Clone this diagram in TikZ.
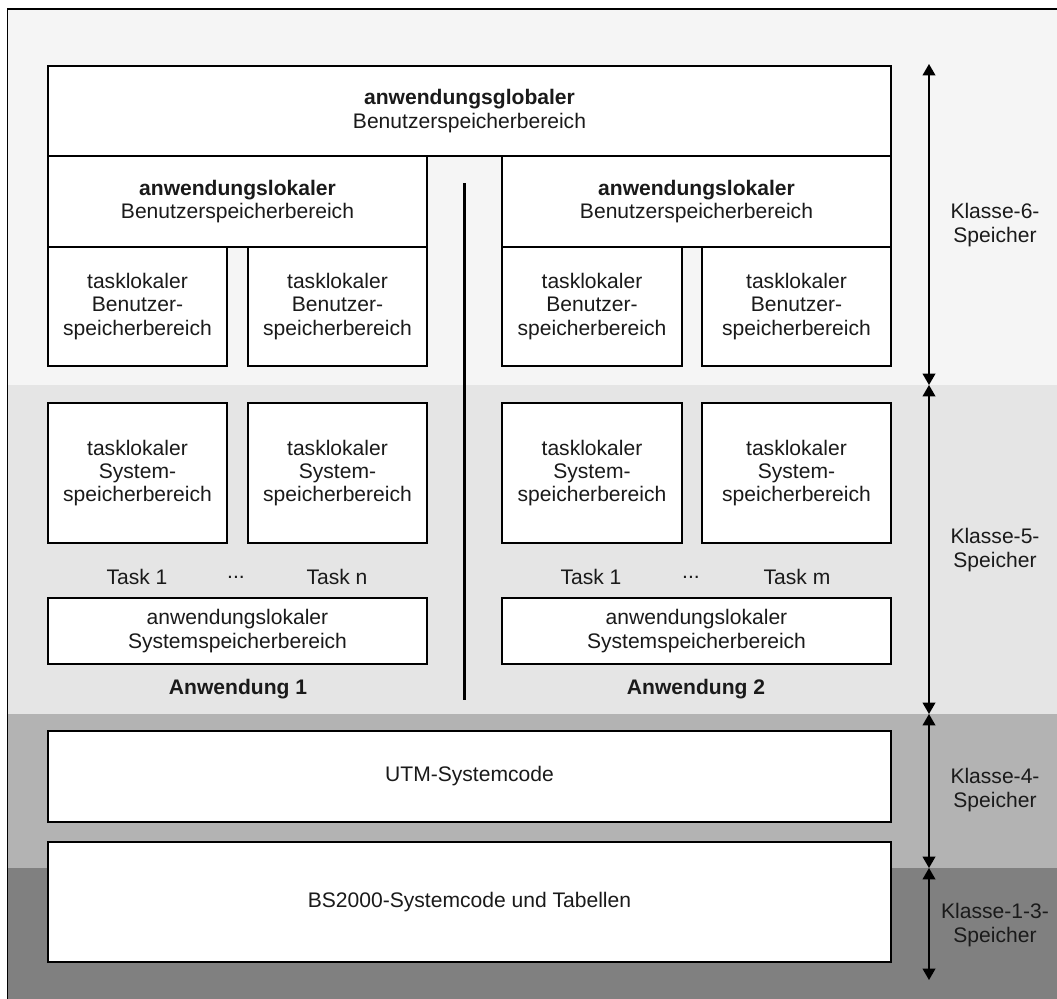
\documentclass[tikz,border=0pt]{standalone}
\usepackage{fontspec}
\setmainfont{Liberation Sans}
\usetikzlibrary{fit,arrows.meta}
\definecolor{bandA}{HTML}{F5F5F5}
\definecolor{bandB}{HTML}{E5E5E5}
\definecolor{bandC}{HTML}{B3B3B3}
\definecolor{bandD}{HTML}{808080}
\definecolor{txt}{HTML}{1A1A1A}
\tikzset{
  box/.style={draw=black, fill=white, line width=1.15pt, inner sep=0pt},
  lbl/.style={align=center, text=txt, font=\fontsize{15.8}{17.5}\selectfont, inner sep=0pt},
  dimarrow/.style={line width=1.2pt, {Triangle[width=9.5pt,length=8.5pt]}-{Triangle[width=9.5pt,length=8.5pt]}},
}
\begin{document}
\begin{tikzpicture}[x=0.75pt,y=-0.75pt]
\useasboundingbox (0,0) rectangle (1057,999);
% bands
\fill[bandA] (7.5,9) rectangle (1057,385);
\fill[bandB] (7.5,385) rectangle (1057,714);
\fill[bandC] (7.5,714) rectangle (1057,868);
\fill[bandD] (7.5,868) rectangle (1057,999);
\draw[line width=1.15pt] (7.5,999) -- (7.5,9) -- (1057,9);
% boxes
\node[box, fit={(48,66)(891,156)}] (glob) {};
\node[box, fit={(48,156)(427,247)}] (lok1) {};
\node[box, fit={(502,156)(891,247)}] (lok2) {};
\node[box, fit={(48,247)(227,366)}] (tb1) {};
\node[box, fit={(248,247)(427,366)}] (tb2) {};
\node[box, fit={(502,247)(682,366)}] (tb3) {};
\node[box, fit={(702,247)(891,366)}] (tb4) {};
\node[box, fit={(48,403)(227,543)}] (ts1) {};
\node[box, fit={(248,403)(427,543)}] (ts2) {};
\node[box, fit={(502,403)(682,543)}] (ts3) {};
\node[box, fit={(702,403)(891,543)}] (ts4) {};
\node[box, fit={(48,598)(427,664)}] (as1) {};
\node[box, fit={(502,598)(891,664)}] (as2) {};
\node[box, fit={(48,731)(891,822)}] (utm) {};
\node[box, fit={(48,842)(891,962)}] (bs) {};
% box texts
\node[lbl] (glob-t) at (glob.center) {\textbf{anwendungsglobaler}\\Benutzerspeicherbereich};
\node[lbl] (lok1-t) at (lok1.center) {\textbf{anwendungslokaler}\\Benutzerspeicherbereich};
\node[lbl] (lok2-t) at (lok2.center) {\textbf{anwendungslokaler}\\Benutzerspeicherbereich};
\node[lbl] (tb1-t) at (tb1.center) {tasklokaler\\Benutzer-\\speicherbereich};
\node[lbl] (tb2-t) at (tb2.center) {tasklokaler\\Benutzer-\\speicherbereich};
\node[lbl] (tb3-t) at (tb3.center) {tasklokaler\\Benutzer-\\speicherbereich};
\node[lbl] (tb4-t) at (tb4.center) {tasklokaler\\Benutzer-\\speicherbereich};
\node[lbl] (ts1-t) at (ts1.center) {tasklokaler\\System-\\speicherbereich};
\node[lbl] (ts2-t) at (ts2.center) {tasklokaler\\System-\\speicherbereich};
\node[lbl] (ts3-t) at (ts3.center) {tasklokaler\\System-\\speicherbereich};
\node[lbl] (ts4-t) at (ts4.center) {tasklokaler\\System-\\speicherbereich};
\node[lbl] (as1-t) at (as1.center) {anwendungslokaler\\Systemspeicherbereich};
\node[lbl] (as2-t) at (as2.center) {anwendungslokaler\\Systemspeicherbereich};
\node[lbl] (utm-t) at (utm.center) {UTM-Systemcode};
\node[lbl] (bs-t) at (bs.center) {BS2000-Systemcode und Tabellen};
% task labels
\node[lbl] (t11) at (137,577) {Task 1};
\node[lbl] (t1d) at (236,577) {...};
\node[lbl] (t1n) at (337,577) {Task n};
\node[lbl] (t21) at (591,577) {Task 1};
\node[lbl] (t2d) at (691,577) {...};
\node[lbl] (t2m) at (797,577) {Task m};
\node[lbl, font=\fontsize{15.8}{17.5}\selectfont\bfseries] (an1) at (238,689) {Anwendung 1};
\node[lbl, font=\fontsize{15.8}{17.5}\selectfont\bfseries] (an2) at (696,689) {Anwendung 2};
% divider
\coordinate (dtop) at (464,183);
\coordinate (dbot) at (464,700);
\draw[line width=2.25pt] (dtop) -- (dbot);
% dimension arrows
\coordinate (k0) at (929,64);
\coordinate (k1) at (929,385);
\coordinate (k2) at (929,714);
\coordinate (k3) at (929,868);
\coordinate (k4) at (929,980);
\draw[dimarrow] (k0) -- (k1);
\draw[dimarrow] (k1) -- (k2);
\draw[dimarrow] (k2) -- (k3);
\draw[dimarrow] (k3) -- (k4);
\node[lbl] (c6) at (995,225) {Klasse-6-\\Speicher};
\node[lbl] (c5) at (995,550) {Klasse-5-\\Speicher};
\node[lbl] (c4) at (995,790) {Klasse-4-\\Speicher};
\node[lbl] (c13) at (995,925) {Klasse-1-3-\\Speicher};
\end{tikzpicture}
\end{document}
